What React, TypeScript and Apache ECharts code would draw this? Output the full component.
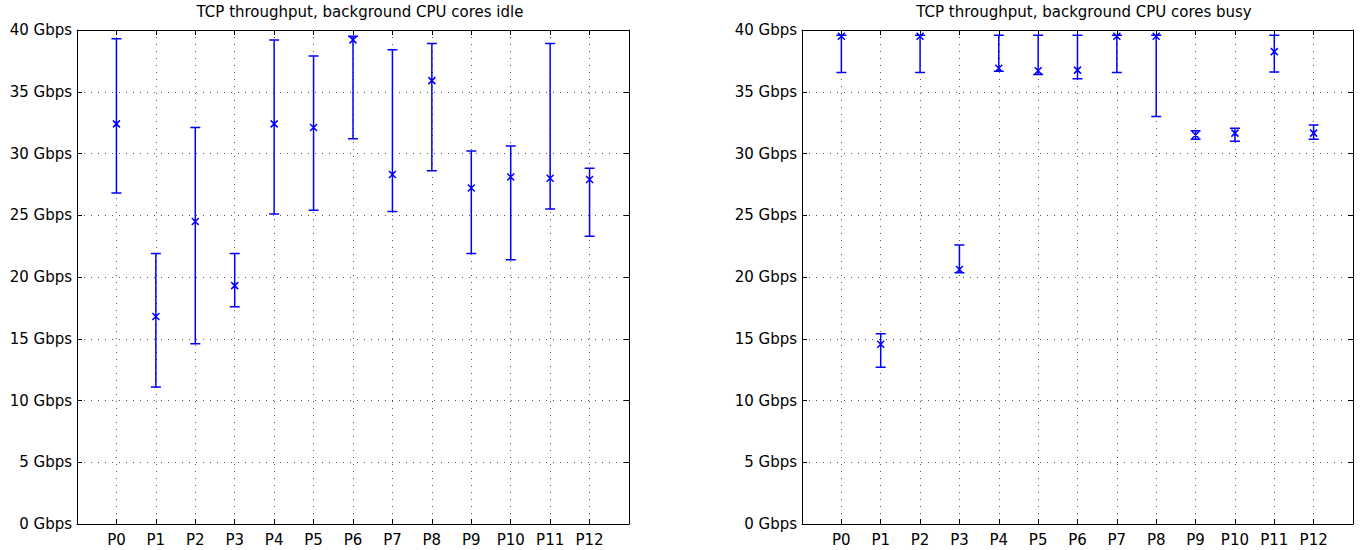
import React, { useEffect, useRef } from "react";
import * as echarts from "echarts";

const categories = ["P0", "P1", "P2", "P3", "P4", "P5", "P6", "P7", "P8", "P9", "P10", "P11", "P12"];
const yTicks = [0, 5, 10, 15, 20, 25, 30, 35, 40];

const idleTitle = "TCP throughput, background CPU cores idle";
const idleLow = [26.8, 11.1, 14.6, 17.6, 25.1, 25.4, 31.2, 25.3, 28.6, 21.9, 21.4, 25.5, 23.3];
const idleMean = [32.4, 16.8, 24.5, 19.3, 32.4, 32.1, 39.2, 28.3, 35.9, 27.2, 28.1, 28.0, 27.9];
const idleHigh = [39.3, 21.9, 32.1, 21.9, 39.2, 37.9, 39.5, 38.4, 38.9, 30.2, 30.6, 38.9, 28.8];

const busyTitle = "TCP throughput, background CPU cores busy";
const busyLow = [36.55, 12.7, 36.55, 20.35, 36.65, 36.4, 36.05, 36.55, 33.0, 31.15, 31.0, 36.6, 31.15];
const busyMean = [39.5, 14.55, 39.5, 20.6, 36.9, 36.7, 36.75, 39.5, 39.5, 31.5, 31.65, 38.25, 31.65];
const busyHigh = [39.57, 15.4, 39.57, 22.6, 39.57, 39.57, 39.57, 39.57, 39.57, 31.85, 32.05, 39.57, 32.3];

const FONT = "DejaVu Sans";
const BLUE = "#0000ff";

const ErrorBarShape = (echarts.graphic as any).extendShape({
  shape: { x: 0, yLo: 0, yHi: 0, yM: 0, cap: 5, mk: 3.5 },
  buildPath(ctx: any, s: any) {
    ctx.moveTo(s.x, s.yLo);
    ctx.lineTo(s.x, s.yHi);
    ctx.moveTo(s.x - s.cap, s.yLo);
    ctx.lineTo(s.x + s.cap, s.yLo);
    ctx.moveTo(s.x - s.cap, s.yHi);
    ctx.lineTo(s.x + s.cap, s.yHi);
    ctx.moveTo(s.x - s.mk, s.yM - s.mk);
    ctx.lineTo(s.x + s.mk, s.yM + s.mk);
    ctx.moveTo(s.x - s.mk, s.yM + s.mk);
    ctx.lineTo(s.x + s.mk, s.yM - s.mk);
  },
});
echarts.graphic.registerShape("errorbar", ErrorBarShape);

function buildData(low: number[], mean: number[], high: number[]) {
  return categories.map((_, i) => [i + 1, low[i], mean[i], high[i]]);
}

function renderItem(_params: any, api: any) {
  const x = api.value(0);
  const pLo = api.coord([x, api.value(1)]);
  const pM = api.coord([x, api.value(2)]);
  const pHi = api.coord([x, api.value(3)]);
  return {
    type: "errorbar",
    shape: {
      x: pLo[0],
      yLo: pLo[1],
      yHi: pHi[1],
      yM: pM[1],
      cap: 5,
      mk: 3.5,
    },
    style: { stroke: BLUE, fill: "none", lineWidth: 1.5 },
  };
}

const gridLine = () => ({ show: true, lineStyle: { color: "#555", width: 1, type: [1, 6] as any } });
const axisLine = () => ({ show: true, onZero: false, lineStyle: { color: "#000", width: 1 } });
const tick = () => ({ show: true, inside: true, length: 5, lineStyle: { color: "#000" } });
const labelStyle = () => ({ color: "#000", fontFamily: FONT, fontSize: 15 });

function xAxes(gridIndex: number) {
  return [
    {
      type: "value",
      gridIndex,
      position: "bottom",
      min: 0,
      max: 14,
      interval: 1,
      axisLine: axisLine(),
      axisTick: tick(),
      splitLine: gridLine(),
      axisLabel: {
        ...labelStyle(),
        margin: 8,
        formatter: (v: number) => categories[v - 1] ?? "",
      },
    },
    {
      type: "value",
      gridIndex,
      position: "top",
      min: 0,
      max: 14,
      interval: 1,
      axisLine: axisLine(),
      axisTick: tick(),
      splitLine: { show: false },
      axisLabel: { show: false },
    },
  ];
}

function yAxes(gridIndex: number) {
  return [
    {
      type: "value",
      gridIndex,
      position: "left",
      min: yTicks[0],
      max: yTicks[yTicks.length - 1],
      interval: yTicks[1] - yTicks[0],
      axisLine: axisLine(),
      axisTick: tick(),
      splitLine: gridLine(),
      axisLabel: { ...labelStyle(), margin: 5, formatter: (v: number) => `${v} Gbps` },
    },
    {
      type: "value",
      gridIndex,
      position: "right",
      min: yTicks[0],
      max: yTicks[yTicks.length - 1],
      interval: yTicks[1] - yTicks[0],
      axisLine: axisLine(),
      axisTick: tick(),
      splitLine: { show: false },
      axisLabel: { show: false },
    },
  ];
}

export default function App() {
  const ref = useRef<HTMLDivElement>(null);
  useEffect(() => {
    if (!ref.current) return;
    const chart = echarts.init(ref.current, undefined, { renderer: "svg" });
    const titleStyle = () => ({ color: "#000", fontFamily: FONT, fontSize: 15, fontWeight: "normal" as const });
    chart.setOption({
      animation: false,
      backgroundColor: "#fff",
      title: [
        { text: idleTitle, left: 355, top: -1, textAlign: "center", textStyle: titleStyle() },
        { text: busyTitle, left: 1079, top: -1, textAlign: "center", textStyle: titleStyle() },
      ],
      grid: [
        { left: 77, top: 30, width: 552, height: 494 },
        { left: 802, top: 30, width: 551, height: 494 },
      ],
      xAxis: [...xAxes(0), ...xAxes(1)],
      yAxis: [...yAxes(0), ...yAxes(1)],
      series: [
        {
          type: "custom",
          xAxisIndex: 0,
          yAxisIndex: 0,
          z: 10,
          renderItem,
          encode: { x: 0, y: [1, 2, 3] },
          data: buildData(idleLow, idleMean, idleHigh),
          itemStyle: { color: BLUE },
          clip: false,
        },
        {
          type: "custom",
          xAxisIndex: 2,
          yAxisIndex: 2,
          z: 10,
          renderItem,
          encode: { x: 0, y: [1, 2, 3] },
          data: buildData(busyLow, busyMean, busyHigh),
          itemStyle: { color: BLUE },
          clip: false,
        },
      ],
    });
    return () => chart.dispose();
  }, []);
  return (
    <div
      ref={ref}
      style={{ position: "absolute", left: 0, top: 0, width: 1360, height: 550 }}
    />
  );
}
